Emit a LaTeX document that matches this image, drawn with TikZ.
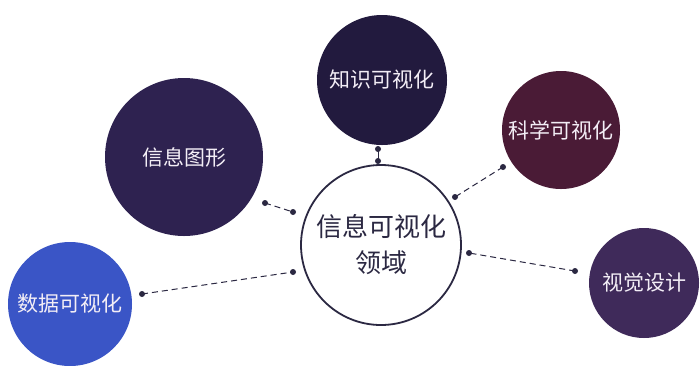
\documentclass[tikz,border=0pt]{standalone}
\usepackage{fontspec}
\setmainfont{Noto Sans CJK SC}
\newfontfamily\cjk{Noto Sans CJK SC}
\definecolor{cknow}{HTML}{221A3E}
\definecolor{cinfo}{HTML}{2E2250}
\definecolor{csci}{HTML}{4A1B36}
\definecolor{cvis}{HTML}{3F2A5A}
\definecolor{cdata}{HTML}{3A55C6}
\definecolor{cline}{HTML}{2B2842}
\definecolor{ctxt}{HTML}{F3EEF6}
\tikzset{
  bubble/.style={circle, inner sep=0pt, text=ctxt, font=\cjk\fontsize{21}{25}\selectfont},
  link/.style={draw=cline, line width=1pt, dashed, dash pattern=on 6pt off 4pt},
  dotmark/.style={circle, fill=cline, inner sep=0pt, minimum size=6pt}
}
\begin{document}
\begin{tikzpicture}[x=1pt,y=-1pt]
\useasboundingbox (0,0) rectangle (700,365);
\fill[white] (0,0) rectangle (700,365);
% center
\node[circle, draw=cline, line width=1.8pt, fill=white, minimum size=160pt, inner sep=0pt,
      align=center, text=cline, font=\cjk\fontsize{26}{36}\selectfont] (c) at (381,245) {信息可视化\\领域};
% outer bubbles
\node[bubble, fill=cknow, minimum size=130pt] (k) at (382,80) {知识可视化};
\node[bubble, fill=cinfo, minimum size=158pt] (i) at (184,157) {信息图形};
\node[bubble, fill=csci, minimum size=118pt] (s) at (561,130) {科学可视化};
\node[bubble, fill=cvis, minimum size=110pt] (v) at (644,283) {视觉设计};
\node[bubble, fill=cdata, minimum size=124pt] (d) at (70,304) {数据可视化};
% connector end points
\coordinate (k1) at (378,149); \coordinate (k2) at (378,161);
\coordinate (i1) at (265,203); \coordinate (i2) at (293,212);
\coordinate (s1) at (503,167); \coordinate (s2) at (455,197);
\coordinate (v1) at (575,271); \coordinate (v2) at (469,253);
\coordinate (d1) at (142,294); \coordinate (d2) at (293,272);
\draw[draw=cline, line width=1pt] (k1) -- (k2);
\draw[link] (i1) -- (i2);
\draw[link] (s1) -- (s2);
\draw[link] (v1) -- (v2);
\draw[link] (d1) -- (d2);
\foreach \p in {k1,k2,i1,i2,s1,s2,v1,v2,d1,d2}
  \node[dotmark] at (\p) {};
\end{tikzpicture}
\end{document}
